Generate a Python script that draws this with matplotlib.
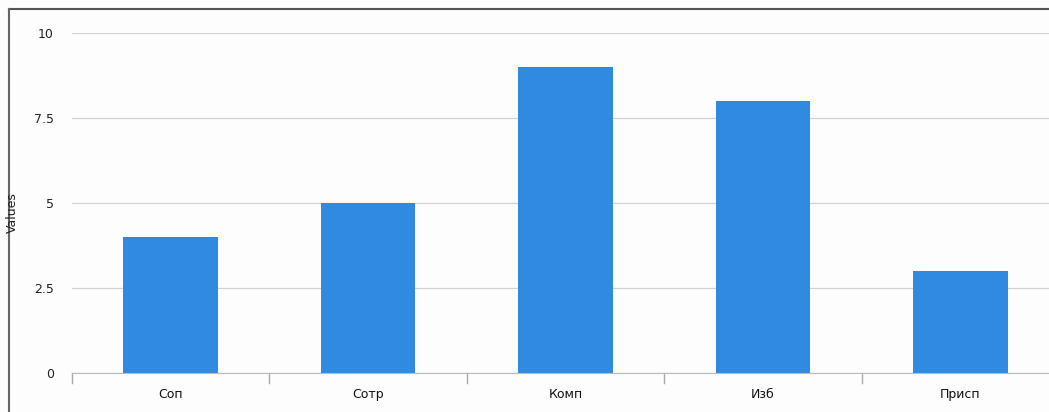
import matplotlib
matplotlib.use("Agg")
import matplotlib.pyplot as plt
from matplotlib.lines import Line2D

categories = ["Соп", "Сотр", "Комп", "Изб", "Присп"]
values = [4, 5, 9, 8, 3]
y_ticks = [0, 2.5, 5, 7.5, 10]
y_tick_labels = ["0", "2.5", "5", "7.5", "10"]

W, H = 1049, 412
fig = plt.figure(figsize=(W / 100, H / 100), dpi=100)
fig.patch.set_facecolor("#fdfdfd")

# plot area in pixels: x 72..1059, y 33 (value 10) .. 373 (value 0)
ax = fig.add_axes([72 / W, (H - 373) / H, (1059 - 72) / W, (373 - 33) / H])
ax.set_facecolor("none")

x = range(len(categories))
ax.bar(x, values, width=0.48, color="#308ae0", zorder=3)

ax.set_xlim(-0.5, len(categories) - 0.5)
ax.set_ylim(0, 10)
ax.set_yticks(y_ticks)
ax.set_yticklabels(y_tick_labels, fontsize=9, color="#222222")
ax.tick_params(axis="y", length=0, pad=13)
ax.grid(axis="y", color="#d2d2d2", linewidth=0.9, zorder=0)

ax.set_xticks(x)
ax.set_xticklabels(categories, fontsize=9, color="#111111")
ax.tick_params(axis="x", length=0, pad=11)
# separators between category bands
for b in range(len(categories) + 1):
    ax.plot([b - 0.5, b - 0.5], [0, -0.3], color="#aaaaaa", lw=1,
            clip_on=False, zorder=2)

for s in ["top", "right", "left"]:
    ax.spines[s].set_visible(False)
ax.spines["bottom"].set_color("#bbbbbb")
ax.spines["bottom"].set_zorder(4)

fig.text(12 / W, 1 - 213 / H, "Values", rotation=90, fontsize=9,
         ha="center", va="center", color="#222222")

# window frame on top and left edges
fig.add_artist(Line2D([9 / W, 1], [1 - 9 / H, 1 - 9 / H], color="#555555", lw=1.5))
fig.add_artist(Line2D([9 / W, 9 / W], [0, 1 - 9 / H], color="#666666", lw=1.5))

fig.savefig("out.png", dpi=100, facecolor=fig.get_facecolor())
